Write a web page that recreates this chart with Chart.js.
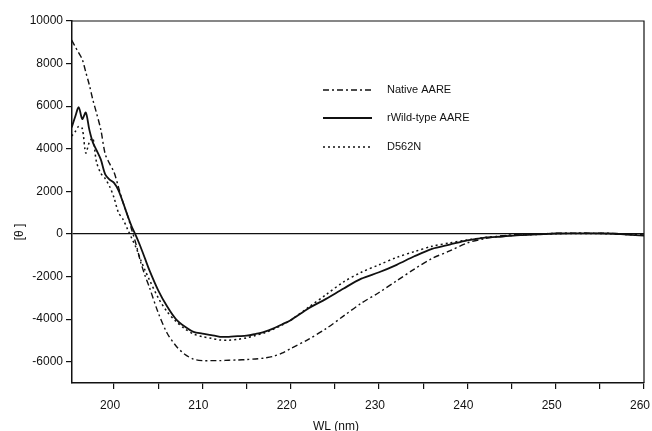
<!DOCTYPE html>
<html>
<head>
<meta charset="utf-8">
<script src="https://cdn.jsdelivr.net/npm/chart.js@4.4.1/dist/chart.umd.min.js"></script>
<style>
  html, body { margin: 0; padding: 0; background: #fff; }
  #wrap { width: 652px; height: 431px; }
</style>
</head>
<body>
<div id="wrap"><canvas id="cd"></canvas></div>
<script>
/* CD spectra — native vs recombinant AARE and D562N mutant */

const WL = [195.2, 195.6, 196.0, 196.4, 196.8, 197.2, 197.6, 198.0, 198.5, 199.0,
            199.5, 200.0, 200.5, 201.0, 201.5, 202.0, 202.5, 203.0, 203.5, 204.0,
            205, 206, 207, 208, 209, 210, 211, 212, 213, 214,
            215, 216, 217, 218, 219, 220, 222, 224, 226, 228,
            230, 232, 234, 236, 238, 240, 242, 244, 246, 248,
            250, 252, 254, 256, 258, 260];

const NATIVE = [9100, 8800, 8500, 8200, 7600, 7000, 6300, 5700, 4900, 3750,
                3300, 2900, 2200, 1500, 900, 200, -500, -1300, -1950, -2500,
                -3700, -4650, -5250, -5650, -5880, -5950, -5950, -5950, -5930, -5920,
                -5900, -5870, -5830, -5750, -5600, -5380, -4950, -4450, -3850, -3250,
                -2750, -2200, -1650, -1150, -800, -420, -220, -80, -20, 0,
                30, 40, 40, 30, 0, -50];

const WILD = [5000, 5500, 5950, 5400, 5700, 4900, 4300, 3950, 3500, 2800,
              2550, 2400, 2050, 1500, 900, 350, -100, -600, -1150, -1700,
              -2650, -3400, -4000, -4350, -4600, -4680, -4750, -4830, -4830, -4800,
              -4780, -4700, -4600, -4450, -4250, -4050, -3500, -3050, -2560, -2100,
              -1800, -1450, -1050, -700, -500, -300, -170, -120, -60, -20,
              20, 30, 30, 20, -30, -80];

const D562N = [4600, 4800, 5050, 4950, 3800, 4300, 4500, 3400, 2850, 2600,
               2230, 1700, 1000, 700, 250, -200, -650, -1200, -1700, -2150,
               -3000, -3650, -4100, -4450, -4700, -4820, -4900, -4980, -4990, -4950,
               -4880, -4770, -4650, -4480, -4280, -4050, -3450, -2850, -2250, -1800,
               -1450, -1100, -830, -580, -420, -280, -170, -100, -50, -20,
               10, 20, 20, 10, -30, -70];

const X_TICKS = [200, 205, 210, 215, 220, 225, 230, 235, 240, 245, 250, 255, 260];
const Y_TICKS = [-6000, -4000, -2000, 0, 2000, 4000, 6000, 8000, 10000];

const SERIES = [
  { label: 'Native AARE',     data: NATIVE, dash: [6, 3, 2, 3], width: 1.4 },
  { label: 'rWild-type AARE', data: WILD,   dash: [],           width: 1.8 },
  { label: 'D562N',           data: D562N,  dash: [2, 3],       width: 1.5 },
];

const INK = '#111';
const FONT = 'Liberation Sans, Arial, sans-serif';

/* frame, titles and in-plot legend */
const decor = {
  id: 'decor',
  afterDatasetsDraw(chart) {
    const { ctx, chartArea: a } = chart;
    ctx.save();
    ctx.strokeStyle = INK;
    ctx.lineWidth = 1.2;
    ctx.beginPath();
    ctx.moveTo(a.left, a.top); ctx.lineTo(a.right, a.top); ctx.lineTo(a.right, a.bottom);
    ctx.stroke();

    // legend
    ctx.font = '11px ' + FONT;
    ctx.fillStyle = INK;
    ctx.textBaseline = 'middle';
    const ys = [90, 118, 147];
    SERIES.forEach((s, i) => {
      ctx.setLineDash(s.dash);
      ctx.lineWidth = s.width;
      ctx.beginPath();
      ctx.moveTo(323, ys[i]); ctx.lineTo(372, ys[i]);
      ctx.stroke();
      ctx.setLineDash([]);
      ctx.fillText(s.label, 387, ys[i]);
    });

    // axis titles
    ctx.font = '12px ' + FONT;
    ctx.textAlign = 'center';
    ctx.textBaseline = 'top';
    ctx.fillText('WL (nm)', 336, 421);
    ctx.translate(20, 232);
    ctx.rotate(-Math.PI / 2);
    ctx.textBaseline = 'middle';
    ctx.fillText('[θ ]', 0, 0);
    ctx.restore();
  },
};

new Chart(document.getElementById('cd'), {
  type: 'line',
  data: {
    datasets: SERIES.map(s => ({
      label: s.label,
      data: WL.map((x, i) => ({ x, y: s.data[i] })),
      borderColor: INK,
      borderWidth: s.width,
      borderDash: s.dash,
      pointRadius: 0,
      tension: 0.3,
      fill: false,
    })),
  },
  options: {
    responsive: true, maintainAspectRatio: false, animation: false,
    layout: { padding: { top: 21, right: 8, left: 0, bottom: 0 } },
    plugins: { legend: { display: false }, tooltip: { enabled: false } },
    scales: {
      x: {
        type: 'linear', min: 195.24, max: 260,
        border: { display: true, color: INK, width: 1.5 },
        grid: { drawOnChartArea: false, drawTicks: true, tickLength: 6, tickColor: INK, lineWidth: 1.2 },
        ticks: {
          autoSkip: false, maxRotation: 0, labelOffset: -4,
          padding: 9, color: INK, font: { family: FONT, size: 12 },
          callback: v => (v % 10 === 0 ? String(v) : ''),
        },
        afterBuildTicks(s) { s.ticks = X_TICKS.map(v => ({ value: v })); },
        afterFit(s) { s.height = 48; s.paddingLeft = 0; s.paddingRight = 0; },
      },
      y: {
        min: -7000, max: 10000,
        border: { display: true, color: INK, width: 1.5 },
        grid: {
          drawOnChartArea: true, drawTicks: true, tickLength: 6,
          color: c => (c.tick && c.tick.value === 0 ? INK : 'rgba(0,0,0,0)'),
          tickColor: INK, lineWidth: 1.2,
        },
        ticks: {
          autoSkip: false, padding: 3,
          color: INK, font: { family: FONT, size: 12 },
          callback: v => String(v),
        },
        afterBuildTicks(s) { s.ticks = Y_TICKS.map(v => ({ value: v })); },
        afterFit(s) { s.width = 72; s.paddingTop = 0; s.paddingBottom = 0; },
      },
    },
  },
  plugins: [decor],
});
</script>
</body>
</html>
